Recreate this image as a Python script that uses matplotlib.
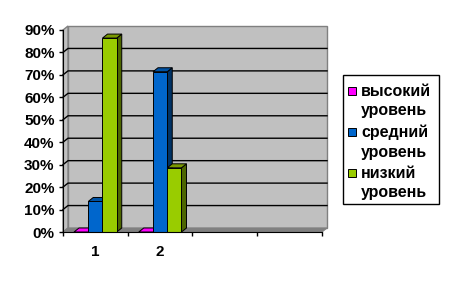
import matplotlib
matplotlib.use('Agg')

import matplotlib.pyplot as plt
from matplotlib.patches import Polygon, Rectangle

plt.rcParams['font.family'] = ['Liberation Sans', 'DejaVu Sans']

# данные
kategorii = ['1', '2', '', '']
serii = ['высокий\nуровень', 'средний\nуровень', 'низкий\nуровень']
vysokiy = [0.0, 0.0]
sredniy = [13.6, 71.4]
nizkiy = [86.4, 28.6]
y_ticks = [0, 10, 20, 30, 40, 50, 60, 70, 80, 90]
y_labels = ['0%', '10%', '20%', '30%', '40%', '50%', '60%', '70%', '80%', '90%']

front_cols = ['#FF00FF', '#0066CC', '#99CC00']
top_cols = ['#CC00CC', '#0052A3', '#7A9900']
side_cols = ['#800080', '#003366', '#4D6600']

W, H = 449, 282
fig = plt.figure(figsize=(W / 100, H / 100), dpi=100)
ax = fig.add_axes([63 / W, 50 / H, 259 / W, 202 / H])
n = len(kategorii)
ax.set_xlim(0, n)
ax.set_ylim(0, 90)
ax.patch.set_visible(False)

# глубина в пикселях -> в единицах данных
ddx = 5 / (259 / n)
ddy = 4 / (202 / 90)

# стены и пол
back = Polygon([(ddx, ddy), (n + ddx, ddy), (n + ddx, 90 + ddy), (ddx, 90 + ddy)],
               closed=True, fc='#C0C0C0', ec='#808080', lw=1, clip_on=False, zorder=0)
left = Polygon([(0, 0), (ddx, ddy), (ddx, 90 + ddy), (0, 90)],
               closed=True, fc='#C0C0C0', ec='#808080', lw=1, clip_on=False, zorder=0)
floor = Polygon([(0, 0), (n, 0), (n + ddx, ddy), (ddx, ddy)],
                closed=True, fc='#808080', ec='#808080', lw=0.8, clip_on=False, zorder=0.5)
for p in (back, left, floor):
    ax.add_patch(p)

for v in y_ticks[1:-1]:
    ax.plot([0, ddx, n + ddx], [v, v + ddy, v + ddy], color='black', lw=1,
            clip_on=False, zorder=1)

# столбики
w = 0.22
start = (1 - 3 * w) / 2
znacheniya = [vysokiy, sredniy, nizkiy]
for i in range(n):
    for j, vals in enumerate(znacheniya):
        if i >= len(vals):
            continue
        h = vals[i]
        x0 = i + start + j * w
        z = 2 + i * 3 + j
        side = Polygon([(x0 + w, 0), (x0 + w + ddx, ddy), (x0 + w + ddx, h + ddy), (x0 + w, h)],
                       closed=True, fc=side_cols[j], ec='black', lw=0.7, clip_on=False, zorder=z)
        top = Polygon([(x0, h), (x0 + w, h), (x0 + w + ddx, h + ddy), (x0 + ddx, h + ddy)],
                      closed=True, fc=top_cols[j] if h > 0 else front_cols[j], ec='black', lw=0.7,
                      clip_on=False, zorder=z)
        ax.add_patch(side)
        ax.add_patch(top)
        if h > 0:
            ax.add_patch(Rectangle((x0, 0), w, h, fc=front_cols[j], ec='black', lw=0.7,
                                   clip_on=False, zorder=z))

# оси
for s in ('top', 'right'):
    ax.spines[s].set_visible(False)
ax.spines['left'].set_zorder(20)
ax.spines['bottom'].set_zorder(20)
ax.set_yticks(y_ticks)
ax.set_yticklabels(y_labels, fontsize=11, fontweight='bold')
ax.set_xticks(range(n + 1))
ax.set_xticklabels([])
ax.set_xticks([i + 0.5 for i in range(n)], minor=True)
ax.set_xticklabels(kategorii, minor=True, fontsize=11, fontweight='bold')
ax.tick_params(axis='y', length=3, pad=3, width=1)
ax.tick_params(axis='x', which='major', length=3, width=1)
ax.tick_params(axis='x', which='minor', length=0, pad=9)

# легенда
fig.add_artist(Rectangle((343 / W, 1 - 204 / H), 96 / W, 129 / H, transform=fig.transFigure,
                         fc='white', ec='black', lw=1))
for j, name in enumerate(serii):
    line1, line2 = name.split('\n')
    yc = 91 + j * 41
    fig.add_artist(Rectangle((348 / W, 1 - (yc + 4) / H), 8 / W, 8 / H,
                             transform=fig.transFigure, fc=front_cols[j], ec='black', lw=0.7))
    fig.text(361 / W, 1 - yc / H, line1, fontsize=11.5, fontweight='bold', va='center')
    fig.text(361 / W, 1 - (yc + 20) / H, line2, fontsize=11.5, fontweight='bold', va='center')

fig.savefig('out.png', dpi=100)
